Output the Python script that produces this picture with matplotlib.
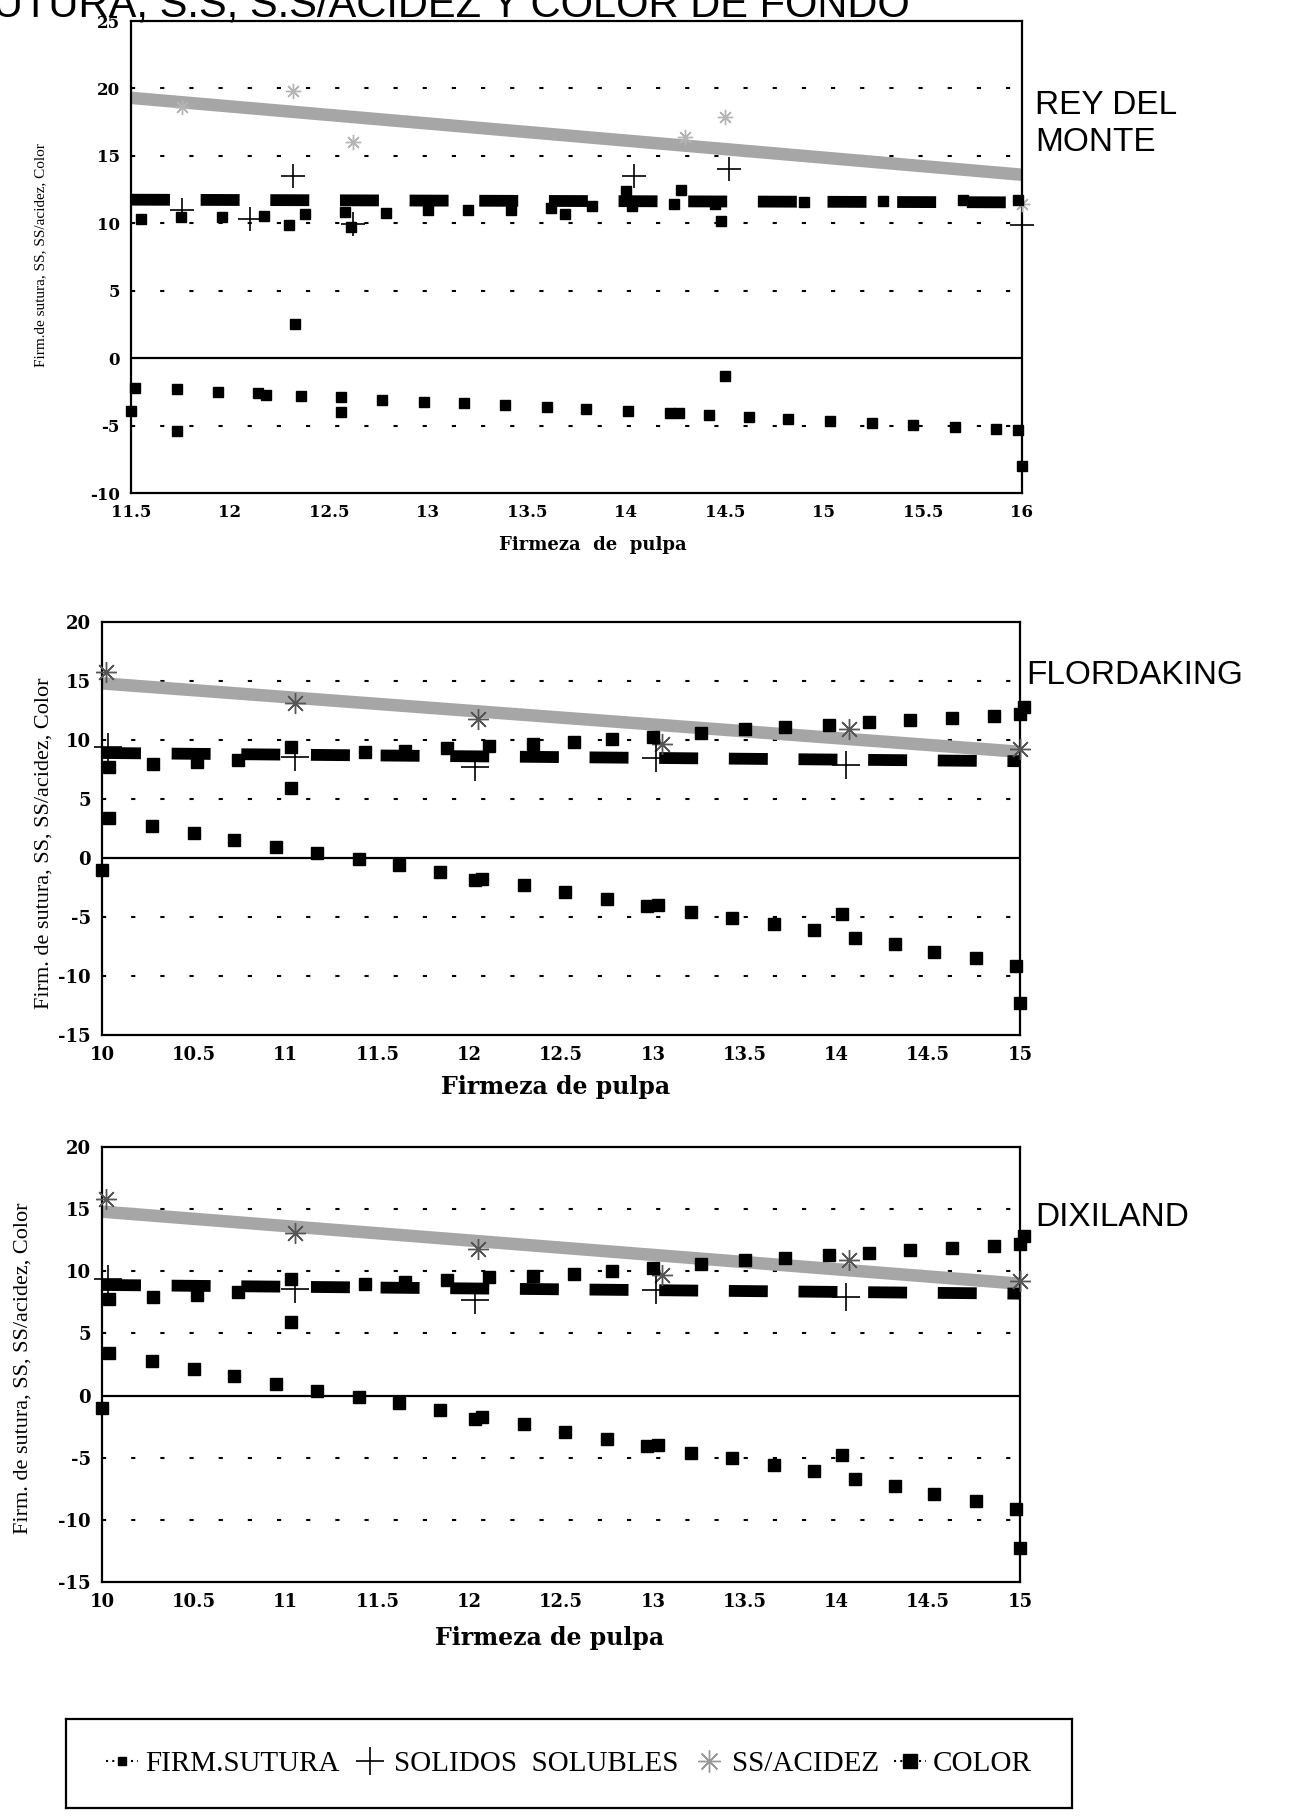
import matplotlib.pyplot as plt
from matplotlib.lines import Line2D

plt.rcParams['axes.unicode_minus'] = False

# ---------------- REY DEL MONTE (panel 1) ----------------
rdm_fit_x = [11.5, 16.0]
rdm_acid_fit_y = [19.3, 13.6]
rdm_ss_fit_y = [11.75, 11.55]

rdm_acid_x = [11.76, 12.32, 12.62, 14.3, 14.5, 16.0]
rdm_acid_y = [18.6, 19.8, 16.0, 16.4, 17.9, 11.4]

rdm_ss_x = [11.76, 12.1, 12.32, 12.62, 14.04, 14.52, 16.0]
rdm_ss_y = [10.95, 10.35, 13.5, 9.95, 13.5, 14.0, 9.9]

rdm_sut_x = [11.55, 11.75, 11.96, 12.17, 12.3, 12.38, 12.58, 12.61, 12.79, 13.0,
             13.2, 13.42, 13.62, 13.69, 13.83, 14.0, 14.03, 14.24, 14.28, 14.45,
             14.48, 14.9, 15.3, 15.7, 15.98]
rdm_sut_y = [10.3, 10.45, 10.45, 10.55, 9.85, 10.7, 10.8, 9.75, 10.75, 10.95,
             10.95, 11.0, 11.15, 10.7, 11.25, 12.4, 11.3, 11.4, 12.45, 11.45,
             10.2, 11.6, 11.65, 11.7, 11.75]

rdm_col_x = [11.5, 11.52, 11.73, 11.73, 11.94, 12.14, 12.18, 12.33, 12.36, 12.56,
             12.56, 12.77, 12.98, 13.18, 13.39, 13.6, 13.8, 14.01, 14.22, 14.27,
             14.42, 14.5, 14.62, 14.82, 15.03, 15.24, 15.45, 15.66, 15.87, 15.98, 16.0]
rdm_col_y = [-3.9, -2.2, -2.3, -5.4, -2.5, -2.6, -2.75, 2.5, -2.8, -2.9,
             -4.0, -3.1, -3.25, -3.35, -3.5, -3.65, -3.8, -3.95, -4.05, -4.05,
             -4.2, -1.3, -4.35, -4.5, -4.65, -4.8, -4.95, -5.1, -5.25, -5.3, -8.0]

rdm_xticks = [11.5, 12, 12.5, 13, 13.5, 14, 14.5, 15, 15.5, 16]
rdm_yticks = [-10, -5, 0, 5, 10, 15, 20, 25]

# ---------------- FLORDAKING / DIXILAND (panels 2 and 3) ----------------
fk_fit_x = [10.0, 15.0]
fk_acid_fit_y = [14.8, 9.0]
fk_ss_fit_y = [8.9, 8.2]

fk_acid_x = [10.02, 11.05, 12.05, 13.05, 14.07, 15.0]
fk_acid_y = [15.8, 13.1, 11.8, 9.7, 10.9, 9.2]

fk_ss_x = [10.03, 11.05, 12.03, 13.02, 14.05]
fk_ss_y = [9.4, 8.6, 7.7, 8.5, 7.9]

fk_sut_x = [10.04, 10.28, 10.52, 10.74, 11.03, 11.03, 11.43, 11.65, 11.88, 12.11,
            12.35, 12.57, 12.78, 13.0, 13.26, 13.5, 13.72, 13.96, 14.18, 14.4,
            14.63, 14.86, 15.0, 15.02]
fk_sut_y = [7.75, 7.95, 8.1, 8.3, 9.4, 5.9, 8.95, 9.1, 9.3, 9.5,
            9.65, 9.8, 10.05, 10.25, 10.6, 10.9, 11.1, 11.3, 11.5, 11.7,
            11.9, 12.05, 12.2, 12.8]

fk_col_x = [10.0, 10.04, 10.27, 10.5, 10.72, 10.95, 11.17, 11.4, 11.62, 11.84,
            12.03, 12.07, 12.3, 12.52, 12.75, 12.97, 13.03, 13.21, 13.43, 13.66,
            13.88, 14.03, 14.1, 14.32, 14.53, 14.76, 14.98, 15.0]
fk_col_y = [-1.0, 3.4, 2.75, 2.1, 1.55, 0.95, 0.4, -0.1, -0.6, -1.2,
            -1.85, -1.75, -2.3, -2.9, -3.5, -4.05, -4.0, -4.6, -5.05, -5.6,
            -6.1, -4.75, -6.75, -7.3, -7.95, -8.5, -9.15, -12.3]

fk_xticks = [10, 10.5, 11, 11.5, 12, 12.5, 13, 13.5, 14, 14.5, 15]
fk_yticks = [-15, -10, -5, 0, 5, 10, 15, 20]

W, H = 1290, 1817
BAND = '#a6a6a6'
GRID_LS = (0, (2, 12))


def rect(left, top, right, bottom):
    return [left / W, 1 - bottom / H, (right - left) / W, (bottom - top) / H]


def draw_panel(ax, fit_x, acid_fit_y, ss_fit_y, acid_x, acid_y, ss_x, ss_y,
               sut_x, sut_y, col_x, col_y, xticks, yticks, big):
    ms = 8 if big else 6.5
    tick_fs = 13 if big else 12
    # dotted horizontal grid, solid zero line
    for y in yticks[1:-1]:
        if y == 0:
            ax.axhline(0, color='black', lw=1.6, zorder=1)
        else:
            ax.axhline(y, color='black', lw=1.5, ls=GRID_LS, zorder=1)

    ax.plot(fit_x, acid_fit_y, color=BAND, lw=9, solid_capstyle='butt', zorder=2)
    ax.plot(fit_x, ss_fit_y, color='black', lw=8.5, dashes=(3.3, 2.6), zorder=3)

    acid_col = '#555555' if big else '#b5b5b5'
    ax.plot(acid_x, acid_y, ls='none', marker=(8, 2, 0), ms=15 if big else 11,
            mew=1.0, color=acid_col, clip_on=False, zorder=4)
    ax.plot(ss_x, ss_y, ls='none', marker='+', ms=20 if big else 17, mew=1.2,
            color='black', clip_on=False, zorder=4)
    ax.plot(sut_x, sut_y, ls='none', marker='s', ms=ms, color='black',
            clip_on=False, zorder=5)
    ax.plot(col_x, col_y, ls='none', marker='s', ms=ms, color='black',
            clip_on=False, zorder=5)

    ax.set_xlim(xticks[0], xticks[-1])
    ax.set_ylim(yticks[0], yticks[-1])
    ax.set_xticks(xticks)
    ax.set_xticklabels([f"{t:g}" for t in xticks])
    ax.set_yticks(yticks)
    ax.set_yticklabels([f"{t:g}" for t in yticks])
    ax.tick_params(length=0, pad=8, labelsize=tick_fs)
    for lab in ax.get_xticklabels() + ax.get_yticklabels():
        lab.set_family('DejaVu Serif')
        lab.set_fontweight('bold')
    for s in ax.spines.values():
        s.set_linewidth(1.6)


fig = plt.figure(figsize=(W / 100, H / 100), dpi=100)

fig.text(910 / W, 1 - 17 / H, "FIRM. DE SUTURA, S.S, S.S/ACIDEZ Y COLOR DE FONDO",
         ha='right', va='baseline', fontsize=30, family='Liberation Sans')

# panel 1
ax1 = fig.add_axes(rect(131, 21, 1022, 493))
draw_panel(ax1, rdm_fit_x, rdm_acid_fit_y, rdm_ss_fit_y, rdm_acid_x, rdm_acid_y,
           rdm_ss_x, rdm_ss_y, rdm_sut_x, rdm_sut_y, rdm_col_x, rdm_col_y,
           rdm_xticks, rdm_yticks, big=False)
fig.text(593 / W, 1 - 545 / H, "Firmeza  de  pulpa", ha='center', va='center',
         fontsize=13, family='DejaVu Serif', fontweight='bold')
fig.text(41 / W, 1 - 255 / H, "Firm.de sutura, SS, SS/acidez, Color", rotation=90,
         ha='center', va='center', fontsize=11, family='Liberation Serif')
fig.text(1035 / W, 1 - 90 / H, "REY DEL\nMONTE", ha='left', va='top',
         fontsize=24, family='Liberation Sans', linespacing=1.25)

# panel 2
ax2 = fig.add_axes(rect(102, 622, 1020, 1035))
draw_panel(ax2, fk_fit_x, fk_acid_fit_y, fk_ss_fit_y, fk_acid_x, fk_acid_y,
           fk_ss_x, fk_ss_y, fk_sut_x, fk_sut_y, fk_col_x, fk_col_y,
           fk_xticks, fk_yticks, big=True)
fig.text(556 / W, 1 - 1087 / H, "Firmeza de pulpa", ha='center', va='center',
         fontsize=17, family='DejaVu Serif', fontweight='bold')
fig.text(44 / W, 1 - 843 / H, "Firm. de sutura, SS, SS/acidez, Color", rotation=90,
         ha='center', va='center', fontsize=16, family='Liberation Serif')
fig.text(1026 / W, 1 - 676 / H, "FLORDAKING", ha='left', va='center',
         fontsize=24, family='Liberation Sans')

# panel 3
ax3 = fig.add_axes(rect(102, 1147, 1020, 1582))
draw_panel(ax3, fk_fit_x, fk_acid_fit_y, fk_ss_fit_y, fk_acid_x, fk_acid_y,
           fk_ss_x, fk_ss_y, fk_sut_x, fk_sut_y, fk_col_x, fk_col_y,
           fk_xticks, fk_yticks, big=True)
fig.text(550 / W, 1 - 1638 / H, "Firmeza de pulpa", ha='center', va='center',
         fontsize=17, family='DejaVu Serif', fontweight='bold')
fig.text(23 / W, 1 - 1368 / H, "Firm. de sutura, SS, SS/acidez, Color", rotation=90,
         ha='center', va='center', fontsize=16, family='Liberation Serif')
fig.text(1035 / W, 1 - 1217 / H, "DIXILAND", ha='left', va='center',
         fontsize=24, family='Liberation Sans')

# legend box
lax = fig.add_axes(rect(66, 1719, 1072, 1808))
lax.set_xticks([])
lax.set_yticks([])
for s in lax.spines.values():
    s.set_linewidth(1.6)
handles = [
    Line2D([], [], color='black', ls=(0, (1, 2)), lw=1.5, marker='s', ms=6),
    Line2D([], [], color='black', ls='none', marker='+', ms=20, mew=1.2),
    Line2D([], [], color='#999999', ls='none', marker=(8, 2, 0), ms=16, mew=1.0),
    Line2D([], [], color='black', ls=(0, (1, 2)), lw=1.5, marker='s', ms=10),
]
labels = ["FIRM.SUTURA", "SOLIDOS  SOLUBLES", "SS/ACIDEZ", "COLOR"]
lax.legend(handles, labels, loc='center', ncol=4, frameon=False,
           handlelength=1.1, handletextpad=0.25, columnspacing=0.5,
           prop={'family': 'Liberation Serif', 'size': 21})

fig.savefig('out.png', dpi=100)
